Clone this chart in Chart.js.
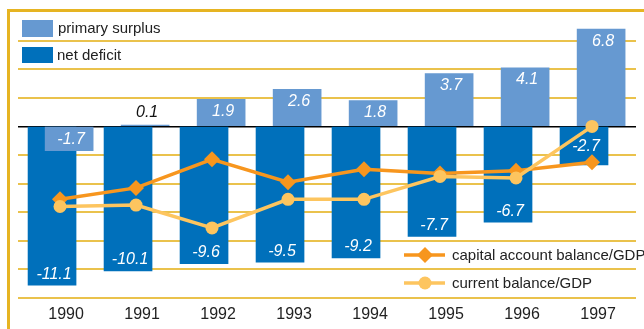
<!DOCTYPE html>
<html lang="en">

<head>
    <meta charset="UTF-8">
    <title>Balances</title>
    <script src="https://cdn.jsdelivr.net/npm/chart.js"></script>
    <style>
        html, body { margin: 0; padding: 0; background: #fff; }
        canvas { display: block; }
    </style>
</head>

<body>
    <canvas id="myChart" width="644" height="329"></canvas>

    <script>
        const years = ['1990', '1991', '1992', '1993', '1994', '1995', '1996', '1997'];
        const primarySurplus = [-1.7, 0.1, 1.9, 2.6, 1.8, 3.7, 4.1, 6.8];
        const netDeficit = [-11.1, -10.1, -9.6, -9.5, -9.2, -7.7, -6.7, -2.7];
        const capitalAccount = [-5.1, -4.3, -2.3, -3.9, -3.0, -3.3, -3.1, -2.5];
        const currentBalance = [-5.6, -5.5, -7.1, -5.1, -5.1, -3.5, -3.6, 0.0];

        const DARK = '#0070bb';
        const LIGHT = '#6699d1';
        const ORANGE = '#f7961e';
        const YELLOW = '#fdc55f';
        const GRID = '#eac24c';
        const FRAME = '#e6b422';
        const FONT = '"Liberation Sans", Arial, sans-serif';

        // bars sit a little left / right of the year, lines sit on it
        const darkShift = -0.105;
        const lightShift = 0.12;

        const ctx = document.getElementById('myChart');

        // yellow frame + legends
        const decor = {
            id: 'decor',
            beforeDraw(chart) {
                const c = chart.ctx;
                c.save();
                c.fillStyle = '#fff';
                c.fillRect(0, 0, chart.width, chart.height);
                c.strokeStyle = FRAME;
                c.lineWidth = 3;
                c.beginPath();
                c.moveTo(7, 10.5);
                c.lineTo(chart.width, 10.5);
                c.moveTo(8.5, 9);
                c.lineTo(8.5, chart.height);
                c.stroke();
                c.restore();
            },
            afterDraw(chart) {
                const c = chart.ctx;
                c.save();
                c.font = '15px ' + FONT;
                c.textBaseline = 'middle';
                c.fillStyle = LIGHT;
                c.fillRect(22, 20, 31, 17);
                c.fillStyle = DARK;
                c.fillRect(22, 47, 31, 16);
                c.fillStyle = '#222';
                c.fillText('primary surplus', 58, 29);
                c.fillText('net deficit', 57, 56);

                // line legend
                c.lineWidth = 3.5;
                c.strokeStyle = ORANGE;
                c.beginPath(); c.moveTo(404, 255); c.lineTo(445, 255); c.stroke();
                c.fillStyle = ORANGE;
                c.beginPath();
                c.moveTo(425, 247); c.lineTo(433, 255); c.lineTo(425, 263); c.lineTo(417, 255);
                c.closePath(); c.fill();
                c.strokeStyle = YELLOW;
                c.beginPath(); c.moveTo(404, 283); c.lineTo(445, 283); c.stroke();
                c.fillStyle = YELLOW;
                c.beginPath(); c.arc(425, 283, 6.5, 0, Math.PI * 2); c.fill();
                c.fillStyle = '#222';
                c.fillText('capital account balance/GDP', 452, 256);
                c.fillText('current balance/GDP', 452, 284);
                c.restore();
            }
        };

        // value labels on the bars
        const barLabels = {
            id: 'barLabels',
            afterDatasetsDraw(chart) {
                const c = chart.ctx;
                c.save();
                c.font = 'italic 16px ' + FONT;
                c.textAlign = 'center';
                c.textBaseline = 'middle';
                chart.data.datasets.forEach((ds, di) => {
                    if (ds.type !== 'bar') return;
                    const meta = chart.getDatasetMeta(di);
                    meta.data.forEach((bar, i) => {
                        const v = ds.data[i].y;
                        const top = Math.min(bar.y, bar.base);
                        const bottom = Math.max(bar.y, bar.base);
                        const h = bottom - top;
                        let y;
                        if (h < 20) {
                            c.fillStyle = '#111';
                            y = top - 12;
                        } else {
                            c.fillStyle = '#fff';
                            if (ds.label == 'net deficit') {
                                y = h < 60 ? (top + bottom) / 2 : bottom - 11;
                            } else {
                                y = top + 12;
                            }
                        }
                        c.fillText(v.toFixed(1), bar.x + 2, y);
                    });
                });
                c.restore();
            }
        };

        const xy = (arr, shift) => arr.map((v, i) => ({ x: i + shift, y: v }));

        new Chart(ctx, {
            data: {
                datasets: [{
                    type: 'line',
                    label: 'current balance/GDP',
                    data: xy(currentBalance, 0),
                    borderColor: YELLOW,
                    backgroundColor: YELLOW,
                    borderWidth: 3.5,
                    pointStyle: 'circle',
                    pointRadius: 6.5,
                    pointBorderWidth: 0,
                    order: 0
                }, {
                    type: 'line',
                    label: 'capital account balance/GDP',
                    data: xy(capitalAccount, 0),
                    borderColor: ORANGE,
                    backgroundColor: ORANGE,
                    borderWidth: 3.5,
                    pointStyle: 'rectRot',
                    pointRadius: 8,
                    pointBorderWidth: 0,
                    order: 1
                }, {
                    type: 'bar',
                    label: 'primary surplus',
                    data: xy(primarySurplus, lightShift),
                    backgroundColor: LIGHT,
                    barThickness: 48,
                    grouped: false,
                    order: 2
                }, {
                    type: 'bar',
                    label: 'net deficit',
                    data: xy(netDeficit, darkShift),
                    backgroundColor: DARK,
                    barThickness: 48,
                    grouped: false,
                    order: 3
                }]
            },
            options: {
                responsive: false,
                animation: false,
                layout: { padding: { left: 18, right: 8, top: 12, bottom: 0 } },
                plugins: {
                    legend: { display: false },
                    tooltip: { enabled: false }
                },
                scales: {
                    x: {
                        type: 'linear',
                        offset: false,
                        min: -0.553,
                        max: 7.579,
                        grid: { display: false },
                        border: { display: false },
                        afterBuildTicks: (scale) => {
                            scale.ticks = years.map((y, i) => ({ value: i + 0.08 }));
                        },
                        afterFit: (scale) => { scale.height = 31; },
                        ticks: {
                            autoSkip: false,
                            maxRotation: 0,
                            padding: -1,
                            color: '#222',
                            font: { family: FONT, size: 16 },
                            callback: (v, index) => years[index]
                        }
                    },
                    y: {
                        min: -12,
                        max: 8,
                        afterFit: (scale) => { scale.width = 0; },
                        ticks: { display: false, stepSize: 2 },
                        border: { display: false },
                        grid: {
                            drawTicks: false,
                            color: (c) => c.tick.value == 0 ? '#000' : (c.tick.value == 8 ? 'rgba(0,0,0,0)' : GRID),
                            lineWidth: (c) => c.tick.value == 0 ? 1.5 : 2
                        }
                    }
                }
            },
            plugins: [decor, barLabels]
        });
    </script>
</body>

</html>
